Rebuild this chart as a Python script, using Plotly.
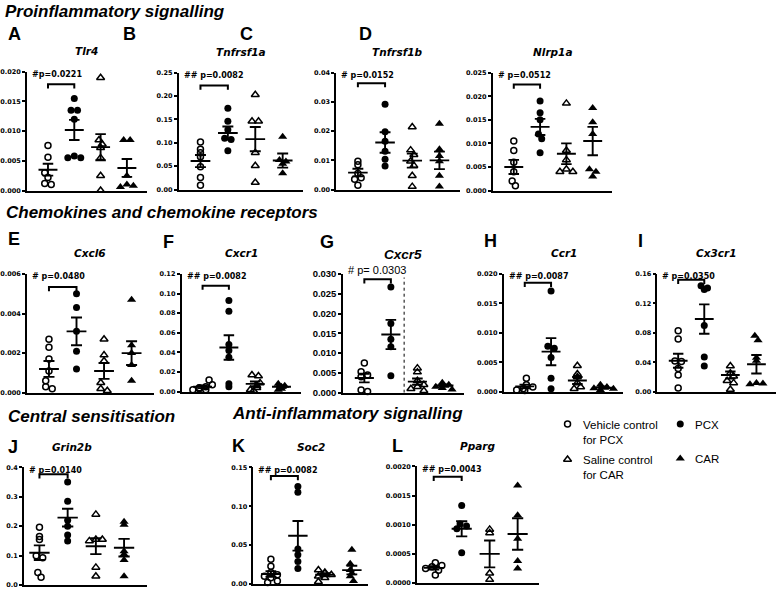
import plotly.graph_objects as go

W, H = 778, 594

group_names = ["Vehicle control for PCX", "PCX", "Saline control for CAR", "CAR"]

# ---------------- data (relative expression) ----------------
tlr4_vehicle = [0.0076, 0.0056, 0.0030, 0.0022, 0.0012, 0.0010]
tlr4_pcx = [0.0155, 0.0135, 0.0135, 0.0120, 0.0058, 0.0055, 0.0055]
tlr4_saline = [0.0190, 0.0085, 0.0078, 0.0072, 0.0055, 0.0025, 0.0000]
tlr4_car = [0.0085, 0.0085, 0.0025, 0.0010, 0.0008, 0.0006]
tlr4_mean = [0.0035, 0.0102, 0.0073, 0.0038]
tlr4_sem = [0.0010, 0.0017, 0.0022, 0.0015]

tnfrsf1a_vehicle = [0.102, 0.086, 0.079, 0.070, 0.049, 0.026, 0.009]
tnfrsf1a_pcx = [0.174, 0.146, 0.128, 0.110, 0.107, 0.083]
tnfrsf1a_saline = [0.203, 0.146, 0.146, 0.079, 0.051, 0.015]
tnfrsf1a_car = [0.113, 0.063, 0.060, 0.055, 0.035]
tnfrsf1a_mean = [0.061, 0.121, 0.108, 0.062]
tnfrsf1a_sem = [0.013, 0.014, 0.026, 0.015]

tnfrsf1b_vehicle = [0.0097, 0.0085, 0.0055, 0.0040, 0.0035, 0.0015]
tnfrsf1b_pcx = [0.0292, 0.0198, 0.0165, 0.0131, 0.0104, 0.0081]
tnfrsf1b_saline = [0.0214, 0.0135, 0.0119, 0.0097, 0.0082, 0.0047, 0.0010]
tnfrsf1b_car = [0.0225, 0.0138, 0.0115, 0.0097, 0.0047, 0.0010]
tnfrsf1b_mean = [0.0058, 0.0161, 0.0099, 0.0100]
tnfrsf1b_sem = [0.0013, 0.0035, 0.0024, 0.0030]

nlrp1a_vehicle = [0.0105, 0.0085, 0.0060, 0.0040, 0.0020, 0.0010]
nlrp1a_pcx = [0.0190, 0.0165, 0.0150, 0.0120, 0.0110, 0.0080]
nlrp1a_saline = [0.0185, 0.0085, 0.0065, 0.0045, 0.0040, 0.0040]
nlrp1a_car = [0.0175, 0.0145, 0.0120, 0.0045, 0.0040, 0.0030]
nlrp1a_mean = [0.0050, 0.0135, 0.0078, 0.0105]
nlrp1a_sem = [0.0015, 0.0017, 0.0022, 0.0030]

cxcl6_vehicle = [0.0027, 0.0023, 0.0017, 0.0011, 0.0006, 0.0003, 0.0002]
cxcl6_pcx = [0.0050, 0.0043, 0.0031, 0.0021, 0.0012]
cxcl6_saline = [0.0027, 0.0019, 0.0016, 0.0005, 0.0002, 0.0001]
cxcl6_car = [0.0047, 0.0024, 0.0020, 0.0014, 0.0006]
cxcl6_mean = [0.0012, 0.0031, 0.0011, 0.0020]
cxcl6_sem = [0.0004, 0.0007, 0.0004, 0.0006]

cxcr1_vehicle = [0.012, 0.007, 0.005, 0.004, 0.003, 0.002, 0.002]
cxcr1_pcx = [0.093, 0.082, 0.048, 0.042, 0.035, 0.008, 0.005]
cxcr1_saline = [0.017, 0.016, 0.009, 0.006, 0.004, 0.002, 0.001]
cxcr1_car = [0.008, 0.006, 0.005, 0.003, 0.002]
cxcr1_mean = [0.005, 0.045, 0.008, 0.005]
cxcr1_sem = [0.0013, 0.0125, 0.0024, 0.0011]

cxcr5_vehicle = [0.0075, 0.0053, 0.0045, 0.0040, 0.0007, 0.0003]
cxcr5_pcx = [0.0267, 0.0175, 0.0135, 0.0116, 0.0043]
cxcr5_saline = [0.0062, 0.0052, 0.0030, 0.0020, 0.0015, 0.0010, 0.0005]
cxcr5_car = [0.0025, 0.0020, 0.0015, 0.0012, 0.0008]
cxcr5_mean = [0.0037, 0.0147, 0.0028, 0.0018]
cxcr5_sem = [0.0011, 0.0037, 0.0008, 0.0003]

ccr1_vehicle = [0.0023, 0.0012, 0.0008, 0.0005, 0.0003, 0.0002]
ccr1_pcx = [0.0171, 0.0077, 0.0074, 0.0058, 0.0023, 0.0005]
ccr1_saline = [0.0044, 0.0030, 0.0025, 0.0015, 0.0008, 0.0005]
ccr1_car = [0.0012, 0.0008, 0.0006, 0.0005, 0.0003]
ccr1_mean = [0.0009, 0.0068, 0.0019, 0.0007]
ccr1_sem = [0.0003, 0.0023, 0.0006, 0.0002]

cx3cr1_vehicle = [0.0827, 0.0716, 0.0418, 0.0410, 0.0316, 0.0227, 0.0050]
cx3cr1_pcx = [0.144, 0.141, 0.139, 0.090, 0.047, 0.035]
cx3cr1_saline = [0.035, 0.025, 0.021, 0.015, 0.012, 0.003]
cx3cr1_car = [0.076, 0.070, 0.046, 0.042, 0.012, 0.011, 0.010]
cx3cr1_mean = [0.042, 0.0987, 0.0227, 0.0373]
cx3cr1_sem = [0.0095, 0.020, 0.0048, 0.0125]

grin2b_vehicle = [0.196, 0.165, 0.155, 0.100, 0.093, 0.043, 0.027]
grin2b_pcx = [0.350, 0.285, 0.220, 0.200, 0.170, 0.150]
grin2b_saline = [0.240, 0.155, 0.155, 0.150, 0.060, 0.030]
grin2b_car = [0.215, 0.205, 0.115, 0.105, 0.085, 0.030]
grin2b_mean = [0.110, 0.229, 0.132, 0.127]
grin2b_sem = [0.025, 0.030, 0.027, 0.030]

soc2_vehicle = [0.032, 0.023, 0.015, 0.012, 0.010, 0.008, 0.004, 0.002]
soc2_pcx = [0.1255, 0.118, 0.045, 0.0377, 0.029, 0.020]
soc2_saline = [0.018, 0.015, 0.014, 0.012, 0.010, 0.008, 0.003]
soc2_car = [0.044, 0.026, 0.018, 0.014, 0.010, 0.004]
soc2_mean = [0.013, 0.062, 0.012, 0.018]
soc2_sem = [0.0035, 0.019, 0.002, 0.0055]

pparg_vehicle = [0.00035, 0.00030, 0.00028, 0.00025, 0.00022, 0.00014]
pparg_pcx = [0.00133, 0.00101, 0.00098, 0.00093, 0.00052]
pparg_saline = [0.00092, 0.00086, 0.00017, 0.00006]
pparg_car = [0.00167, 0.00116, 0.00076, 0.00038, 0.00025]
pparg_mean = [0.00026, 0.00093, 0.00050, 0.00084]
pparg_sem = [0.00003, 0.00013, 0.00023, 0.00027]

p_texts = ["#p=0.0221", "## p=0.0082", "# p=0.0152", "# p=0.0512",
           "# p=0.0480", "## p=0.0082", "# p= 0.0303", "## p=0.0087", "# p=0.0350",
           "# p=0.0140", "## p=0.0082", "## p=0.0043"]
gene_names = ["Tlr4", "Tnfrsf1a", "Tnfrsf1b", "Nlrp1a", "Cxcl6", "Cxcr1", "Cxcr5",
              "Ccr1", "Cx3cr1", "Grin2b", "Soc2", "Pparg"]
y_max = [0.020, 0.25, 0.04, 0.025, 0.006, 0.12, 0.030, 0.020, 0.16, 0.4, 0.15, 0.0020]
y_step = [0.005, 0.05, 0.01, 0.005, 0.002, 0.02, 0.005, 0.005, 0.04, 0.1, 0.05, 0.0005]
y_decimals = [3, 2, 2, 3, 3, 2, 3, 3, 2, 1, 2, 4]

values = {
    "Tlr4": ([tlr4_vehicle, tlr4_pcx, tlr4_saline, tlr4_car], tlr4_mean, tlr4_sem),
    "Tnfrsf1a": ([tnfrsf1a_vehicle, tnfrsf1a_pcx, tnfrsf1a_saline, tnfrsf1a_car], tnfrsf1a_mean, tnfrsf1a_sem),
    "Tnfrsf1b": ([tnfrsf1b_vehicle, tnfrsf1b_pcx, tnfrsf1b_saline, tnfrsf1b_car], tnfrsf1b_mean, tnfrsf1b_sem),
    "Nlrp1a": ([nlrp1a_vehicle, nlrp1a_pcx, nlrp1a_saline, nlrp1a_car], nlrp1a_mean, nlrp1a_sem),
    "Cxcl6": ([cxcl6_vehicle, cxcl6_pcx, cxcl6_saline, cxcl6_car], cxcl6_mean, cxcl6_sem),
    "Cxcr1": ([cxcr1_vehicle, cxcr1_pcx, cxcr1_saline, cxcr1_car], cxcr1_mean, cxcr1_sem),
    "Cxcr5": ([cxcr5_vehicle, cxcr5_pcx, cxcr5_saline, cxcr5_car], cxcr5_mean, cxcr5_sem),
    "Ccr1": ([ccr1_vehicle, ccr1_pcx, ccr1_saline, ccr1_car], ccr1_mean, ccr1_sem),
    "Cx3cr1": ([cx3cr1_vehicle, cx3cr1_pcx, cx3cr1_saline, cx3cr1_car], cx3cr1_mean, cx3cr1_sem),
    "Grin2b": ([grin2b_vehicle, grin2b_pcx, grin2b_saline, grin2b_car], grin2b_mean, grin2b_sem),
    "Soc2": ([soc2_vehicle, soc2_pcx, soc2_saline, soc2_car], soc2_mean, soc2_sem),
    "Pparg": ([pparg_vehicle, pparg_pcx, pparg_saline, pparg_car], pparg_mean, pparg_sem),
}

# ---------------- layout spec (pixels) ----------------
# letter, axis-left, axis-right, top, bottom, x-range, bracket fraction, letter pos, title x
layout_spec = [
    ("A", 25, 145, 67, 188, (-0.8, 3.75), 0.895, (4, 16), None),
    ("B", 177, 302, 68, 187, (-0.8, 3.75), 0.89, (119, 16), None),
    ("C", 335, 459, 68, 187, (-0.8, 3.75), 0.91, (237, 16), None),
    ("D", 492, 612, 68, 188, (-0.8, 3.75), 0.90, (356, 16), None),
    ("E", 25, 152, 273, 394, (-0.8, 3.8), 0.89, (4, 225), None),
    ("F", 180, 300, 273, 393, (-0.8, 3.75), 0.90, (159, 228), None),
    ("G", 342, 463, 273, 394, (-0.8, 3.75), 0.955, (317, 228), None),
    ("H", 503, 623, 273, 393, (-0.8, 3.75), 0.925, (481, 227), None),
    ("I", 657, 776, 273, 393, (-0.8, 3.75), 0.95, (636, 227), None),
    ("J", 22, 145, 470, 590, (-0.55, 3.8), 0.94, (4, 437), 70),
    ("K", 252, 367, 470, 589, (-0.65, 3.6), 0.925, (229, 436), None),
    ("L", 416, 538, 469, 588, (-0.6, 3.75), 0.91, (389, 436), None),
]

symbols = ["circle-open", "circle", "triangle-up-open", "triangle-up"]
msizes = [6, 7, 7, 8]

TICK_FONT = dict(family="DejaVu Sans", size=6.5, color="black", weight="bold")
G_TICK_FONT = dict(family="Liberation Sans", size=9.5, color="black", weight="bold")


def swarm(vals, ppy, d):
    """beeswarm offsets in pixels"""
    order = sorted(range(len(vals)), key=lambda i: -vals[i])
    cands = [0.0]
    for m in range(1, 12):
        cands += [m * d * 0.5, -m * d * 0.5]
    pos = {}
    for i in order:
        yp = vals[i] * ppy
        for c in cands:
            if all((c - px) ** 2 + (yp - py) ** 2 >= (0.8 * d) ** 2 for px, py in pos.values()):
                pos[i] = (c, yp)
                break
    idx = list(pos.keys())
    parent = {i: i for i in idx}

    def find(a):
        while parent[a] != a:
            a = parent[a]
        return a
    for a in idx:
        for b in idx:
            if a < b:
                pa, pb = pos[a], pos[b]
                if (pa[0] - pb[0]) ** 2 + (pa[1] - pb[1]) ** 2 < (1.1 * d) ** 2:
                    parent[find(a)] = find(b)
    clusters = {}
    for i in idx:
        clusters.setdefault(find(i), []).append(i)
    offs = [0.0] * len(vals)
    for members in clusters.values():
        xs = [pos[m][0] for m in members]
        shift = (max(xs) + min(xs)) / 2
        for m in members:
            offs[m] = pos[m][0] - shift
    return offs


fig = go.Figure()
annotations = []
lay = {}

for n, (spec, gene) in enumerate(zip(layout_spec, gene_names), start=1):
    letter, x0, x1, yt, yb, xr, bfrac, lpos, tx = spec
    xa = "x" if n == 1 else f"x{n}"
    ya = "y" if n == 1 else f"y{n}"
    ymax = y_max[n - 1]
    step = y_step[n - 1]
    dec = y_decimals[n - 1]
    groups, means, sems = values[gene]
    ppy = (yb - yt) / ymax
    ppx = (x1 - x0) / (xr[1] - xr[0])
    is_g = gene == "Cxcr5"

    for g, vals in enumerate(groups):
        offs = swarm(vals, ppy, 6.5)
        fig.add_trace(go.Scatter(
            x=[g + o / ppx for o in offs], y=vals, mode="markers",
            marker=dict(symbol=symbols[g], size=msizes[g], color="black",
                        line=dict(color="black", width=1.5 if "open" in symbols[g] else 0)),
            xaxis=xa, yaxis=ya, cliponaxis=False, showlegend=False, hoverinfo="skip",
            name=group_names[g]))
    lx, ly = [], []
    for g, (m, s) in enumerate(zip(means, sems)):
        lx += [g - 0.36, g + 0.36, None, g, g, None, g - 0.2, g + 0.2, None, g - 0.2, g + 0.2, None]
        ly += [m, m, None, m - s, m + s, None, m + s, m + s, None, m - s, m - s, None]
    fig.add_trace(go.Scatter(x=lx, y=ly, mode="lines", line=dict(color="black", width=1.9),
                             xaxis=xa, yaxis=ya, cliponaxis=False, showlegend=False, hoverinfo="skip"))
    fig.add_trace(go.Scatter(x=[0, 0, 1, 1], y=[(bfrac - 0.035) * ymax, bfrac * ymax, bfrac * ymax, (bfrac - 0.035) * ymax],
                             mode="lines", line=dict(color="black", width=2),
                             xaxis=xa, yaxis=ya, cliponaxis=False, showlegend=False, hoverinfo="skip"))
    if is_g:
        fig.add_trace(go.Scatter(x=[1.5, 1.5], y=[0, 0.97 * ymax], mode="lines",
                                 line=dict(color="black", width=1, dash="dot"),
                                 xaxis=xa, yaxis=ya, showlegend=False, hoverinfo="skip"))

    nt = int(round(ymax / step))
    tv = [round(k * step, 8) for k in range(nt + 1)]
    tt = [f"{v:.{dec}f}" for v in tv]
    lay["xaxis" if n == 1 else f"xaxis{n}"] = dict(
        domain=[x0 / W, x1 / W], range=list(xr), anchor=ya, showline=True, linecolor="black",
        linewidth=1.6, showticklabels=False, ticks="", showgrid=False, zeroline=False, fixedrange=True)
    lay["yaxis" if n == 1 else f"yaxis{n}"] = dict(
        domain=[1 - yb / H, 1 - yt / H], range=[0, ymax], anchor=xa, showline=True, linecolor="black",
        linewidth=1.6, ticks="outside", ticklen=3, tickwidth=1.5, tickcolor="black",
        tickvals=tv, ticktext=tt, tickfont=G_TICK_FONT if is_g else TICK_FONT,
        showgrid=False, zeroline=False, fixedrange=True)

    annotations.append(dict(text=f"<b>{letter}</b>", x=lpos[0] / W, y=1 - lpos[1] / H, xref="paper", yref="paper",
                            xanchor="left", yanchor="top", showarrow=False,
                            font=dict(family="Liberation Sans", size=18, color="black")))
    tcx = tx if tx is not None else (x0 + x1) / 2
    if is_g:
        tfont = dict(family="Liberation Sans", size=13.5, color="black", weight="bold", style="italic")
        ty = yt - 20
    else:
        tfont = dict(family="DejaVu Sans", size=10.5, color="black", weight="bold", style="italic")
        ty = yt - 21
    annotations.append(dict(text=gene, x=tcx / W, y=1 - ty / H, xref="paper", yref="paper",
                            xanchor="center", yanchor="middle", showarrow=False, font=tfont))
    if is_g:
        pfont = dict(family="Liberation Sans", size=11, color="black")
        py = yt - 4
    else:
        pfont = dict(family="DejaVu Sans", size=8, color="black", weight="bold")
        py = yt + 3
    annotations.append(dict(text=p_texts[n - 1], x=(x0 + 3) / W, y=1 - py / H, xref="paper", yref="paper",
                            xanchor="left", yanchor="middle", showarrow=False, font=pfont))

HFONT = dict(family="Liberation Sans", size=17, color="black", weight="bold", style="italic")
for txt, hx, hy in [("Proinflammatory signalling", 1, 6), ("Chemokines and chemokine receptors", 2, 210),
                    ("Central sensitisation", 4, 418), ("Anti-inflammatory signalling", 229, 415)]:
    annotations.append(dict(text=txt, x=hx / W, y=1 - hy / H, xref="paper", yref="paper",
                            xanchor="left", yanchor="middle", showarrow=False, font=HFONT))

# legend (custom, two columns) on an invisible full-figure pixel axis
n_leg = 13
lay[f"xaxis{n_leg}"] = dict(domain=[0, 1], range=[0, W], visible=False, fixedrange=True, anchor=f"y{n_leg}")
lay[f"yaxis{n_leg}"] = dict(domain=[0, 1], range=[H, 0], visible=False, fixedrange=True, anchor=f"x{n_leg}")
leg_pos = [(567, 426), (680, 426), (567, 462), (680, 461)]
leg_lines = [["Vehicle control", "for PCX"], ["PCX"], ["Saline control", "for CAR"], ["CAR"]]
for g in range(4):
    fig.add_trace(go.Scatter(x=[leg_pos[g][0]], y=[leg_pos[g][1]], mode="markers",
                             marker=dict(symbol=symbols[g], size=msizes[g], color="black",
                                         line=dict(color="black", width=1.5 if "open" in symbols[g] else 0)),
                             xaxis=f"x{n_leg}", yaxis=f"y{n_leg}", showlegend=False, hoverinfo="skip",
                             name=group_names[g]))
    for k, line in enumerate(leg_lines[g]):
        annotations.append(dict(text=line, x=(leg_pos[g][0] + 13) / W, y=1 - (leg_pos[g][1] + 1 + 15 * k) / H,
                                xref="paper", yref="paper", xanchor="left", yanchor="middle", showarrow=False,
                                font=dict(family="Liberation Sans", size=11.5, color="black")))

fig.update_layout(
    width=W, height=H, margin=dict(l=0, r=0, t=0, b=0),
    paper_bgcolor="white", plot_bgcolor="rgba(0,0,0,0)", showlegend=False,
    annotations=annotations, **lay)

fig.write_html("out.html", config={"displayModeBar": False},
               post_script="document.body.style.margin='0';document.body.style.overflow='hidden';")
